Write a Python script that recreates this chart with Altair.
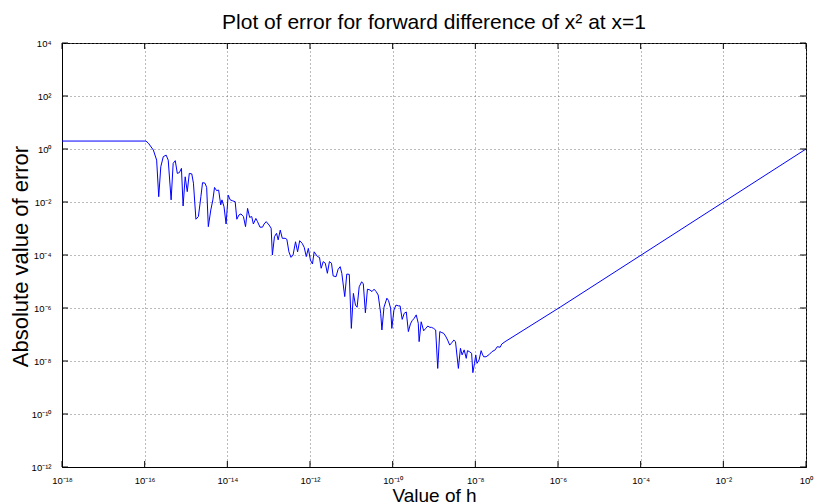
import altair as alt
import pandas as pd

# log10 of step size h and log10 of absolute error
log_h = [-18.00, -15.97, -15.91, -15.79, -15.71, -15.66, -15.61, -15.55, -15.48, -15.43,
         -15.36, -15.31, -15.26, -15.21, -15.16, -15.11, -15.07, -15.02, -14.97, -14.92,
         -14.86, -14.82, -14.76, -14.70, -14.64, -14.60, -14.54, -14.50, -14.46, -14.40,
         -14.35, -14.31, -14.26, -14.21, -14.16, -14.13, -14.08, -14.03, -13.98, -13.93,
         -13.88, -13.81, -13.77, -13.72, -13.67, -13.61, -13.56, -13.51, -13.46, -13.41,
         -13.37, -13.31, -13.27, -13.21, -13.15, -13.11, -13.06, -12.99, -12.94, -12.91,
         -12.86, -12.81, -12.77, -12.72, -12.67, -12.60, -12.56, -12.51, -12.46, -12.41,
         -12.35, -12.30, -12.25, -12.19, -12.14, -12.09, -12.04, -11.99, -11.94, -11.90,
         -11.82, -11.77, -11.73, -11.68, -11.63, -11.58, -11.53, -11.48, -11.44, -11.37,
         -11.32, -11.27, -11.23, -11.16, -11.11, -11.05, -11.00, -10.95, -10.90, -10.86,
         -10.81, -10.75, -10.71, -10.66, -10.61, -10.55, -10.50, -10.45, -10.40, -10.35,
         -10.29, -10.26, -10.21, -10.14, -10.10, -10.05, -10.02, -9.97, -9.92, -9.86,
         -9.82, -9.77, -9.72, -9.67, -9.62, -9.57, -9.53, -9.48, -9.43, -9.38,
         -9.36, -9.31, -9.25, -9.20, -9.15, -9.10, -9.06, -9.01, -8.96, -8.91,
         -8.86, -8.81, -8.77, -8.72, -8.67, -8.62, -8.57, -8.52, -8.48, -8.41,
         -8.36, -8.32, -8.27, -8.22, -8.19, -8.14, -8.09, -8.06, -8.02, -7.99,
         -7.96, -7.91, -7.86, -7.83, -7.80, -7.74, -7.66, -7.60, -7.52, -7.47,
         -7.40, -7.36, -7.28, -5.95, 0.00]

log_err = [0.30, 0.30, 0.22, -0.04, -0.42, -1.80, -0.67, -0.29, -0.23, -0.42,
           -1.92, -0.54, -0.44, -0.92, -0.89, -0.73, -2.15, -1.05, -1.61, -0.92,
           -0.94, -1.29, -2.65, -2.55, -1.80, -1.27, -1.29, -1.45, -2.93, -2.30,
           -1.92, -1.45, -1.57, -1.55, -2.11, -1.92, -2.18, -2.83, -1.74, -1.92,
           -1.95, -1.99, -2.65, -2.49, -2.45, -2.55, -2.93, -2.24, -2.58, -2.55,
           -2.83, -2.62, -2.74, -2.95, -2.95, -2.83, -2.74, -2.87, -2.99, -4.00,
           -3.31, -3.18, -3.43, -3.06, -3.37, -3.37, -3.41, -3.88, -4.09, -4.00,
           -3.50, -3.88, -3.46, -3.56, -3.71, -4.06, -3.75, -4.19, -4.34, -3.88,
           -4.06, -4.09, -4.50, -4.25, -4.31, -4.69, -4.25, -4.31, -4.79, -4.82,
           -4.54, -4.44, -4.69, -5.57, -4.72, -4.73, -6.77, -5.45, -5.89, -5.97,
           -5.20, -5.01, -5.09, -6.18, -5.29, -5.32, -5.38, -5.29, -5.38, -5.51,
           -6.20, -6.83, -5.97, -5.63, -5.72, -6.01, -6.77, -6.08, -5.89, -5.92,
           -5.92, -6.43, -6.20, -6.15, -6.89, -6.60, -6.48, -6.39, -6.26, -6.58,
           -7.27, -6.52, -6.86, -6.77, -6.68, -6.73, -6.73, -6.77, -6.83, -8.28,
           -6.89, -6.93, -6.95, -7.06, -7.21, -7.40, -7.31, -7.21, -7.27, -8.28,
           -7.52, -7.77, -7.58, -7.90, -7.61, -7.65, -7.71, -8.44, -8.09, -7.77,
           -8.09, -7.96, -7.61, -7.74, -7.84, -7.84, -7.75, -7.65, -7.58, -7.46,
           -7.48, -7.36, -7.27, -5.97, 0.00]

x_ticks = [1e-18, 1e-16, 1e-14, 1e-12, 1e-10, 1e-8, 1e-6, 1e-4, 1e-2, 1.0]
y_ticks = [1e-12, 1e-10, 1e-8, 1e-6, 1e-4, 1e-2, 1.0, 1e2, 1e4]

title_text = "Plot of error for forward difference of x\u00b2 at x=1"
x_title = "Value of h"
y_title = "Absolute value of error"

df = pd.DataFrame({"h": [10.0 ** v for v in log_h],
                   "err": [10.0 ** v for v in log_err]})
xt = pd.DataFrame({"h": x_ticks})
yt = pd.DataFrame({"err": y_ticks})

FONT = "Liberation Sans"

sup = ("'10' + replace(replace(replace(replace(replace(replace(replace(replace(replace(replace(replace("
       "'' + round(log(datum.value)/LN10), '-', '\u207b'), '0', '\u2070'), '1', '\u00b9'), '2', '\u00b2'),"
       " '4', '\u2074'), '6', '\u2076'), '8', '\u2078'), '3', '\u00b3'), '5', '\u2075'), '7', '\u2077'), '9', '\u2079')")

xscale = alt.Scale(type="log", domain=[1e-18, 1.0])
yscale = alt.Scale(type="log", domain=[1e-12, 1e4])

x_axis = alt.Axis(values=x_ticks, labelExpr=sup, title=x_title, grid=True,
                  tickSize=0, labelPadding=8, labelFontSize=9.5, labelFlush=False,
                  labelOverlap=False, titleFontSize=19, titleFontWeight="normal",
                  titleY=34, titleBaseline="alphabetic")
y_axis = alt.Axis(values=y_ticks, labelExpr=sup, title=y_title, grid=True,
                  tickSize=0, labelPadding=11, labelFontSize=9.5,
                  labelOverlap=False, titleFontSize=22, titleFontWeight="normal",
                  titleX=-35, titleY=213, titleBaseline="alphabetic",
                  titleAlign="center")

line = alt.Chart(df).mark_line(color="#0000ff", strokeWidth=1, clip=True).encode(
    x=alt.X("h:Q", scale=xscale, axis=x_axis),
    y=alt.Y("err:Q", scale=yscale, axis=y_axis),
)

tick_len = 6
top = alt.Chart(xt).mark_rule(color="black", strokeWidth=1).encode(
    x=alt.X("h:Q", scale=xscale, axis=x_axis), y=alt.value(0), y2=alt.value(tick_len))
bottom = alt.Chart(xt).mark_rule(color="black", strokeWidth=1).encode(
    x=alt.X("h:Q", scale=xscale, axis=x_axis), y=alt.value(424), y2=alt.value(424 - tick_len))
left = alt.Chart(yt).mark_rule(color="black", strokeWidth=1).encode(
    y=alt.Y("err:Q", scale=yscale, axis=y_axis), x=alt.value(0), x2=alt.value(tick_len))
right = alt.Chart(yt).mark_rule(color="black", strokeWidth=1).encode(
    y=alt.Y("err:Q", scale=yscale, axis=y_axis), x=alt.value(744), x2=alt.value(744 - tick_len))

chart = alt.layer(line, top, bottom, left, right).properties(
    width=744, height=424,
    autosize=alt.AutoSizeParams(type="none"),
    padding={"left": 62, "top": 43, "right": 10, "bottom": 37},
    background="white",
    title=alt.TitleParams(title_text, fontSize=21, font=FONT, fontWeight="normal",
                          anchor="middle", frame="group", baseline="alphabetic",
                          offset=14, dy=26, color="black"),
).configure_axis(
    domainColor="black", domainWidth=1,
    gridColor="#777777", gridDash=[1, 3], gridWidth=1,
    labelFont=FONT, titleFont=FONT, labelColor="black", titleColor="black",
).configure_view(stroke="black", strokeWidth=1)

chart.save("out.html", embed_options={"renderer": "svg", "actions": False})
